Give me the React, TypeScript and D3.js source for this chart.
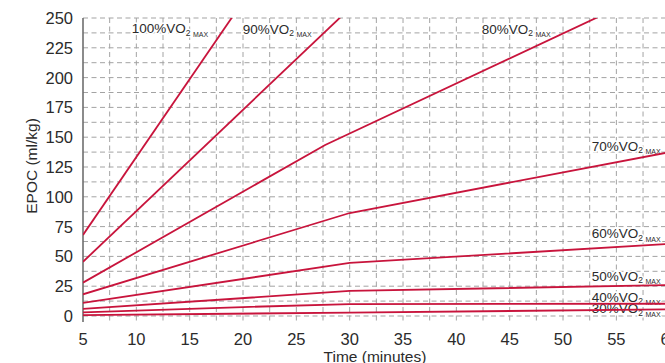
import { useEffect, useRef } from 'react'
import * as d3 from 'd3'

// tick values
const minuteTicks = [5, 10, 15, 20, 25, 30, 35, 40, 45, 50, 55, 60]
const epocTicks = [0, 25, 50, 75, 100, 125, 150, 175, 200, 225, 250]

// EPOC (ml/kg) vs time (minutes)
const vo2_100 = [[5, 68], [20, 264]]
const vo2_90 = [[5, 45.5], [30, 258]]
const vo2_80 = [[5, 28], [27.7, 143.5], [60, 279]]
const vo2_70 = [[5, 18.2], [30, 86.4], [60, 137.5]]
const vo2_60 = [[5, 11], [30, 44.5], [60, 60.5]]
const vo2_50 = [[5, 6], [30, 21], [60, 26]]
const vo2_40 = [[5, 3], [20, 7.5], [30, 10], [60, 10.3]]
const vo2_30 = [[5, 0.8], [30, 2.8], [60, 5.6]]

const seriesLabels = ['100%', '90%', '80%', '70%', '60%', '50%', '40%', '30%']
// label anchors in data units (minutes, EPOC)
const labelMinutes = [9.57, 19.97, 42.38, 52.69, 52.69, 52.69, 52.69, 52.69]
const labelEpoc = [237.2, 236.6, 236.6, 138.7, 65.2, 29.4, 12.0, 2.3]

function EpocChart() {
  const svgRef = useRef<SVGSVGElement | null>(null)

  useEffect(() => {
    if (!svgRef.current) return
    const svg = d3.select(svgRef.current)
    svg.selectAll('*').remove()

    const W = 665
    const H = 363
    const x = d3.scaleLinear().domain([5, 60]).range([83, 669.7])
    const y = d3.scaleLinear().domain([0, 250]).range([316, 18])
    const plotBottom = 322
    const red = '#c8143c'
    const textCol = '#2b2b2b'
    const font = 'Liberation Sans, Arial, Helvetica, sans-serif'

    svg.attr('width', W).attr('height', H)

    svg
      .append('defs')
      .append('clipPath')
      .attr('id', 'plot-clip')
      .append('rect')
      .attr('x', x(5))
      .attr('y', y(250))
      .attr('width', W - x(5))
      .attr('height', plotBottom - y(250))

    // grid
    const grid = svg.append('g')
    const hGrid = d3.range(0, 250.1, 12.5)
    grid
      .selectAll('.hg')
      .data(hGrid)
      .enter()
      .append('line')
      .attr('x1', x(5))
      .attr('x2', W)
      .attr('y1', (d) => y(d))
      .attr('y2', (d) => y(d))
      .attr('stroke', '#a3a3a3')
      .attr('stroke-width', 1)
      .attr('stroke-dasharray', '5,3.5')
    const vGrid = d3.range(7.5, 60.1, 2.5)
    grid
      .selectAll('.vg')
      .data(vGrid)
      .enter()
      .append('line')
      .attr('x1', (d) => x(d))
      .attr('x2', (d) => x(d))
      .attr('y1', y(250))
      .attr('y2', plotBottom)
      .attr('stroke', '#a3a3a3')
      .attr('stroke-width', 1)
      .attr('stroke-dasharray', '5,3.5')

    // left axis line
    svg
      .append('line')
      .attr('x1', x(5))
      .attr('x2', x(5))
      .attr('y1', y(250))
      .attr('y2', plotBottom)
      .attr('stroke', '#6e6e6e')
      .attr('stroke-width', 1.6)

    // tick labels
    svg
      .append('g')
      .selectAll('text')
      .data(epocTicks)
      .enter()
      .append('text')
      .attr('x', 73)
      .attr('y', (d) => y(d) + 6)
      .attr('text-anchor', 'end')
      .style('font-family', font)
      .style('font-size', '16.5px')
      .attr('fill', textCol)
      .text((d) => d)

    svg
      .append('g')
      .selectAll('text')
      .data(minuteTicks)
      .enter()
      .append('text')
      .attr('x', (d) => x(d))
      .attr('y', 345)
      .attr('text-anchor', 'middle')
      .style('font-family', font)
      .style('font-size', '16.5px')
      .attr('fill', textCol)
      .text((d) => d)

    // axis titles
    svg
      .append('text')
      .attr('transform', `translate(37,166) rotate(-90)`)
      .attr('text-anchor', 'middle')
      .style('font-family', font)
      .style('font-size', '15.5px')
      .attr('fill', textCol)
      .text('EPOC (ml/kg)')

    svg
      .append('text')
      .attr('x', 375)
      .attr('y', 361.5)
      .attr('text-anchor', 'middle')
      .style('font-family', font)
      .style('font-size', '15.5px')
      .attr('fill', textCol)
      .text('Time (minutes)')

    // series labels with white halo
    const labels = svg.append('g')
    seriesLabels.forEach((lab, i) => {
      const t = labels
        .append('text')
        .attr('x', x(labelMinutes[i]))
        .attr('y', y(labelEpoc[i]))
        .style('font-family', font)
        .attr('fill', textCol)
        .attr('stroke', '#fff')
        .attr('stroke-width', 3)
        .attr('paint-order', 'stroke')
        .style('font-size', '13.5px')
      t.append('tspan').text(`${lab}VO`)
      t.append('tspan').attr('dy', 2.5).style('font-size', '8.5px').text('2')
      t.append('tspan').attr('dx', 2.5).attr('dy', 1).style('font-size', '7px').text('MAX')
    })

    // lines
    const line = d3
      .line<number[]>()
      .x((d) => x(d[0]))
      .y((d) => y(d[1]))
    const allSeries = [vo2_100, vo2_90, vo2_80, vo2_70, vo2_60, vo2_50, vo2_40, vo2_30]
    svg
      .append('g')
      .attr('clip-path', 'url(#plot-clip)')
      .selectAll('path')
      .data(allSeries)
      .enter()
      .append('path')
      .attr('d', (d) => line(d))
      .attr('fill', 'none')
      .attr('stroke', red)
      .attr('stroke-width', 1.8)
  }, [])

  return <svg ref={svgRef} style={{ position: 'absolute', left: 0, top: 0, background: '#fff' }}></svg>
}

export default function App() {
  return <EpocChart />
}
